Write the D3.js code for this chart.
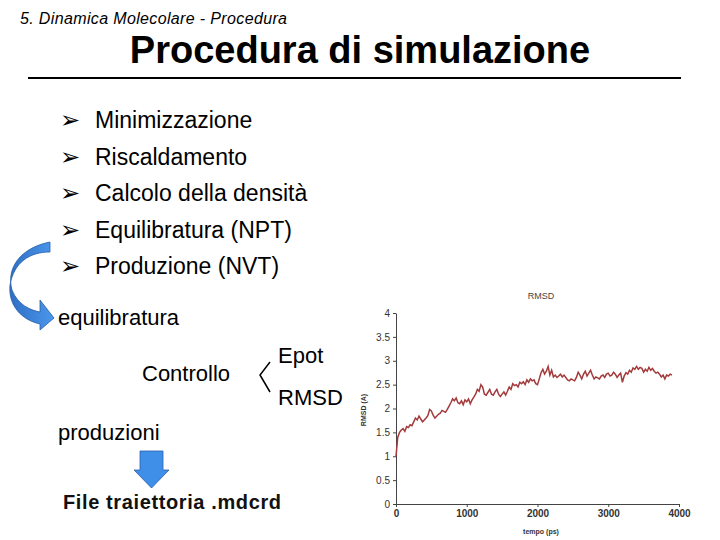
<!DOCTYPE html>
<html>
<head>
<meta charset="utf-8">
<script src="https://cdn.jsdelivr.net/npm/d3@7"></script>
<style>
  body { margin: 0; background: #fff; }
  svg text { font-family: "Liberation Sans", Arial, sans-serif; }
</style>
</head>
<body>
<svg id="slide" width="720" height="540"></svg>
<script>
// RMSD series (tempo in ps, step 25)
const timeStep = 25;
const rmsdValues = [
  1.0,1.4,1.5,1.55, 1.58,1.52,1.62,1.6, 1.66,1.64,1.72,1.8, 1.76,1.84,1.78,1.72,
  1.76,1.8,1.85,1.98, 1.95,1.86,1.8,1.84, 1.88,1.9,1.96,1.94, 1.92,1.98,2.05,2.12,
  2.2,2.16,2.22,2.12, 2.1,2.16,2.08,2.18, 2.14,2.2,2.1,2.18, 2.24,2.3,2.4,2.36,
  2.5,2.45,2.3,2.28, 2.34,2.4,2.3,2.28, 2.35,2.4,2.3,2.25, 2.3,2.35,2.28,2.36,
  2.45,2.4,2.52,2.48, 2.5,2.45,2.55,2.52, 2.56,2.5,2.6,2.55, 2.62,2.58,2.6,2.52,
  2.5,2.62,2.75,2.82, 2.72,2.78,2.88,2.7, 2.8,2.66,2.7,2.65, 2.68,2.72,2.66,2.7,
  2.65,2.6,2.58,2.62, 2.6,2.58,2.65,2.76, 2.7,2.62,2.72,2.78, 2.68,2.74,2.8,2.7,
  2.62,2.66,2.64,2.62, 2.68,2.7,2.65,2.72, 2.74,2.68,2.7,2.76, 2.72,2.65,2.7,2.74,
  2.55,2.68,2.75,2.72, 2.8,2.76,2.85,2.82, 2.88,2.82,2.86,2.84, 2.76,2.82,2.78,2.86,
  2.8,2.84,2.78,2.74, 2.76,2.72,2.66,2.7, 2.62,2.7,2.68,2.72, 2.7
];
const xTicks = [0, 1000, 2000, 3000, 4000];
const yTicks = [0, 0.5, 1, 1.5, 2, 2.5, 3, 3.5, 4];
const bullets = ["Minimizzazione", "Riscaldamento", "Calcolo della densità", "Equilibratura (NPT)", "Produzione (NVT)"];

const svg = d3.select("#slide");

// slide header
svg.append("text").attr("x", 20).attr("y", 24)
  .attr("font-size", 16).attr("font-style", "italic").attr("font-family", "Open Sans, sans-serif")
  .attr("textLength", 267)
  .text("5. Dinamica Molecolare - Procedura");
svg.append("text").attr("x", 360).attr("y", 63).attr("text-anchor", "middle")
  .attr("font-size", 38).attr("font-weight", "bold").text("Procedura di simulazione");
svg.append("line").attr("x1", 28).attr("x2", 681).attr("y1", 78).attr("y2", 78)
  .attr("stroke", "#000").attr("stroke-width", 2);

// bullets
bullets.forEach((b, i) => {
  const y = 128 + i * 36.5;
  svg.append("text").attr("x", 60).attr("y", y).attr("font-size", 24).text("➢");
  svg.append("text").attr("x", 95).attr("y", y).attr("font-size", 23).text(b);
});

// curved blue arrow
const grad = svg.append("defs").append("linearGradient").attr("id", "blu")
  .attr("x1", 0).attr("x2", 1).attr("y1", 0).attr("y2", 0);
grad.append("stop").attr("offset", 0).attr("stop-color", "#2f6fc4");
grad.append("stop").attr("offset", 1).attr("stop-color", "#4a97ec");
svg.append("path")
  .attr("d", "M50,242 C20,248 6,268 12,290 C18,305 30,310 40,312 L40,300 L54,318 L40,330 L40,324 C22,320 8,306 10,285 C14,262 30,252 50,252 Z")
  .attr("fill", "url(#blu)").attr("stroke", "#2a5fa8").attr("stroke-width", 0.8);

svg.append("text").attr("x", 58).attr("y", 325).attr("font-size", 22).text("equilibratura");
svg.append("text").attr("x", 142).attr("y", 381).attr("font-size", 22).text("Controllo");
svg.append("path").attr("d", "M270,362 L260,375 L270,392")
  .attr("fill", "none").attr("stroke", "#000").attr("stroke-width", 1.5);
svg.append("text").attr("x", 278).attr("y", 363).attr("font-size", 22).text("Epot");
svg.append("text").attr("x", 278).attr("y", 405).attr("font-size", 22).text("RMSD");
svg.append("text").attr("x", 58).attr("y", 440).attr("font-size", 22).text("produzioni");
svg.append("path").attr("d", "M140,451 L163,451 L163,470 L169,470 L151.5,488 L134,470 L140,470 Z")
  .attr("fill", "#3f8fe8").attr("stroke", "#2a5fa8").attr("stroke-width", 0.8);
svg.append("text").attr("x", 63).attr("y", 509).attr("font-size", 20).attr("font-weight", "bold")
  .attr("font-family", "Open Sans, sans-serif").attr("fill", "#111").attr("textLength", 218)
  .text("File traiettoria .mdcrd");

// RMSD chart
const x = d3.scaleLinear().domain([0, 4000]).range([396, 679]);
const y = d3.scaleLinear().domain([0, 4]).range([504, 313]);
const g = svg.append("g").attr("font-size", 7);

g.append("g").attr("transform", "translate(0,504)")
  .call(d3.axisBottom(x).tickValues(xTicks).tickSize(3).tickSizeOuter(0).tickFormat(d3.format("d")))
  .call(a => a.selectAll("text").attr("font-weight", "bold").attr("fill", "#333"))
  .call(a => a.selectAll("line,path").attr("stroke", "#444"));
g.append("g").attr("transform", "translate(396,0)")
  .call(d3.axisLeft(y).tickValues(yTicks).tickSize(3).tickSizeOuter(0).tickFormat(d => d))
  .call(a => a.selectAll("text").attr("fill", "#333"))
  .call(a => a.selectAll("line,path").attr("stroke", "#444"));

g.append("path").datum(rmsdValues)
  .attr("d", d3.line().x((d, i) => x(i * timeStep)).y(d => y(d)))
  .attr("fill", "none").attr("stroke", "#a33a3c").attr("stroke-width", 1.5);

svg.append("text").attr("x", 541).attr("y", 299).attr("text-anchor", "middle")
  .attr("font-size", 9).attr("fill", "#444").text("RMSD");
svg.append("text").attr("x", 541).attr("y", 534).attr("text-anchor", "middle")
  .attr("font-size", 7).attr("font-weight", "bold").attr("fill", "#333").text("tempo (ps)");
svg.append("text").attr("transform", "translate(366,410) rotate(-90)").attr("text-anchor", "middle")
  .attr("font-size", 7).attr("font-weight", "bold").attr("fill", "#333").text("RMSD (A)");
</script>
</body>
</html>
